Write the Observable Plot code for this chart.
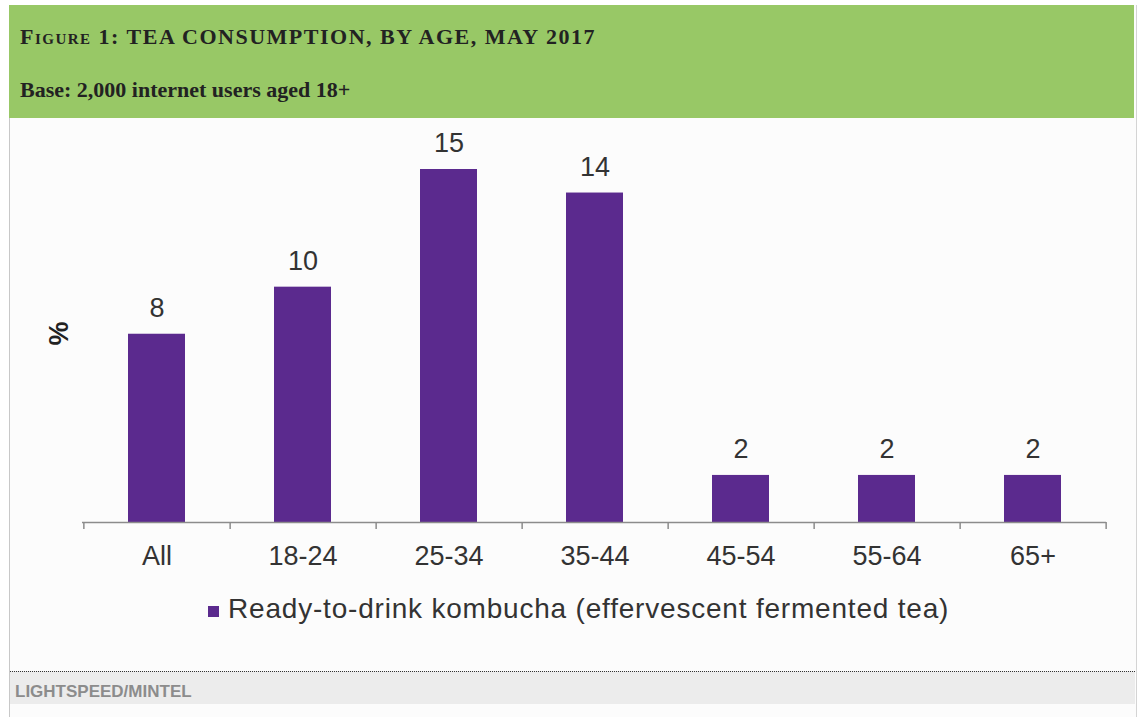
<!DOCTYPE html>
<html>
<head>
<meta charset="utf-8">
<script src="https://cdn.jsdelivr.net/npm/d3@7"></script>
<script src="https://cdn.jsdelivr.net/npm/@observablehq/plot@0.6"></script>
<style>
  html, body { margin: 0; padding: 0; background: #ffffff; }
  body { position: relative; width: 1140px; height: 717px; overflow: hidden; }
  .frame { position: absolute; left: 9px; top: 5px; width: 1126px; height: 712px;
           border-left: 1px solid #c8c8c8; border-right: 1px solid #d4d4d4; background: #fcfcfc; }
  .header { position: absolute; left: 9px; top: 5px; width: 1125px; height: 113px; background: #98c866; }
  .title { position: absolute; left: 20px; top: 24px; font-family: "Liberation Serif", "DejaVu Serif", serif;
           font-weight: bold; font-size: 22px; letter-spacing: 1.5px; color: #222; font-variant: small-caps; white-space: nowrap; }
  .subtitle { position: absolute; left: 20px; top: 77px; font-family: "Liberation Serif", "DejaVu Serif", serif;
              font-weight: bold; font-size: 22px; color: #222; white-space: nowrap; }
  #chart { position: absolute; left: 0; top: 118px; }
  .ylabel { position: absolute; left: 47px; top: 318px; font-family: "Liberation Sans", Arial, sans-serif;
            font-weight: bold; font-size: 27px; color: #222; transform: rotate(-90deg); transform-origin: 50% 50%; }
  .legend { position: absolute; left: 208px; top: 593px; font-family: "Liberation Sans", Arial, sans-serif;
            font-size: 28px; letter-spacing: 0.8px; color: #333; white-space: nowrap; display: flex; align-items: center; }
  .legend .swatch { width: 11px; height: 11px; margin-right: 9px; margin-top: 4px; }
  .footer { position: absolute; left: 10px; top: 671px; width: 1125px; height: 32px; background: #ececec;
            border-top: 1px dotted #333; }
  .source { position: absolute; left: 15px; top: 682px; font-family: "Liberation Sans", Arial, sans-serif;
            font-weight: bold; font-size: 17px; color: #8c8c8c; }
</style>
</head>
<body>
<div class="frame"></div>
<div class="header"></div>
<div class="title">Figure 1: TEA CONSUMPTION, BY AGE, MAY 2017</div>
<div class="subtitle">Base: 2,000 internet users aged 18+</div>
<div id="chart"></div>
<div class="ylabel">%</div>
<div class="legend" id="legend"></div>
<div class="footer"></div>
<div class="source">LIGHTSPEED/MINTEL</div>
<script>
// Share of internet users drinking ready-to-drink kombucha, by age group (%)
const ages = ["All", "18-24", "25-34", "35-44", "45-54", "55-64", "65+"];
const shares = [8, 10, 15, 14, 2, 2, 2];
const seriesName = "Ready-to-drink kombucha (effervescent fermented tea)";
const barColor = "#5b2a8e";

const data = ages.map((age, i) => ({age, share: shares[i]}));

const W = 1140, H = 460;
const mL = 82, mR = 34, mT = 51, mB = 56;
// outer padding is half the inner padding, so category boundaries fall on whole steps
const step = (W - mL - mR) / ages.length;
const axisGrey = "#8c8c8c";

const chart = Plot.plot({
  width: W,
  height: H,
  marginLeft: mL,
  marginRight: mR,
  marginTop: mT,
  marginBottom: mB,
  style: {background: "transparent", fontFamily: "'Liberation Sans', Arial, sans-serif", fontSize: "27px", color: "#333"},
  x: {domain: ages, paddingInner: 0.61, paddingOuter: 0.305, label: null},
  y: {domain: [0, 15], axis: null},
  marks: [
    Plot.barY(data, {x: "age", y: "share", fill: barColor}),
    Plot.ruleY([0], {stroke: axisGrey, strokeWidth: 1.5}),
    // small ticks between categories, hanging below the baseline
    Plot.ruleX(ages, {x: d => d, y1: 0, y2: 0, insetBottom: -7, dx: step / 2, stroke: axisGrey, strokeWidth: 1.5}),
    Plot.ruleX(ages.slice(0, 1), {x: d => d, y1: 0, y2: 0, insetBottom: -7, dx: -step / 2, stroke: axisGrey, strokeWidth: 1.5}),
    Plot.text(data, {x: "age", y: "share", text: d => String(d.share), dy: -26, fontSize: 27, fill: "#333"}),
    Plot.axisX({tickSize: 0, tickPadding: 23, fontSize: 27, fill: "#333", label: null})
  ]
});
document.getElementById("chart").appendChild(chart);

const legend = document.getElementById("legend");
const sw = document.createElement("span");
sw.className = "swatch";
sw.style.background = barColor;
legend.appendChild(sw);
const lt = document.createElement("span");
lt.textContent = seriesName;
legend.appendChild(lt);
</script>
</body>
</html>
